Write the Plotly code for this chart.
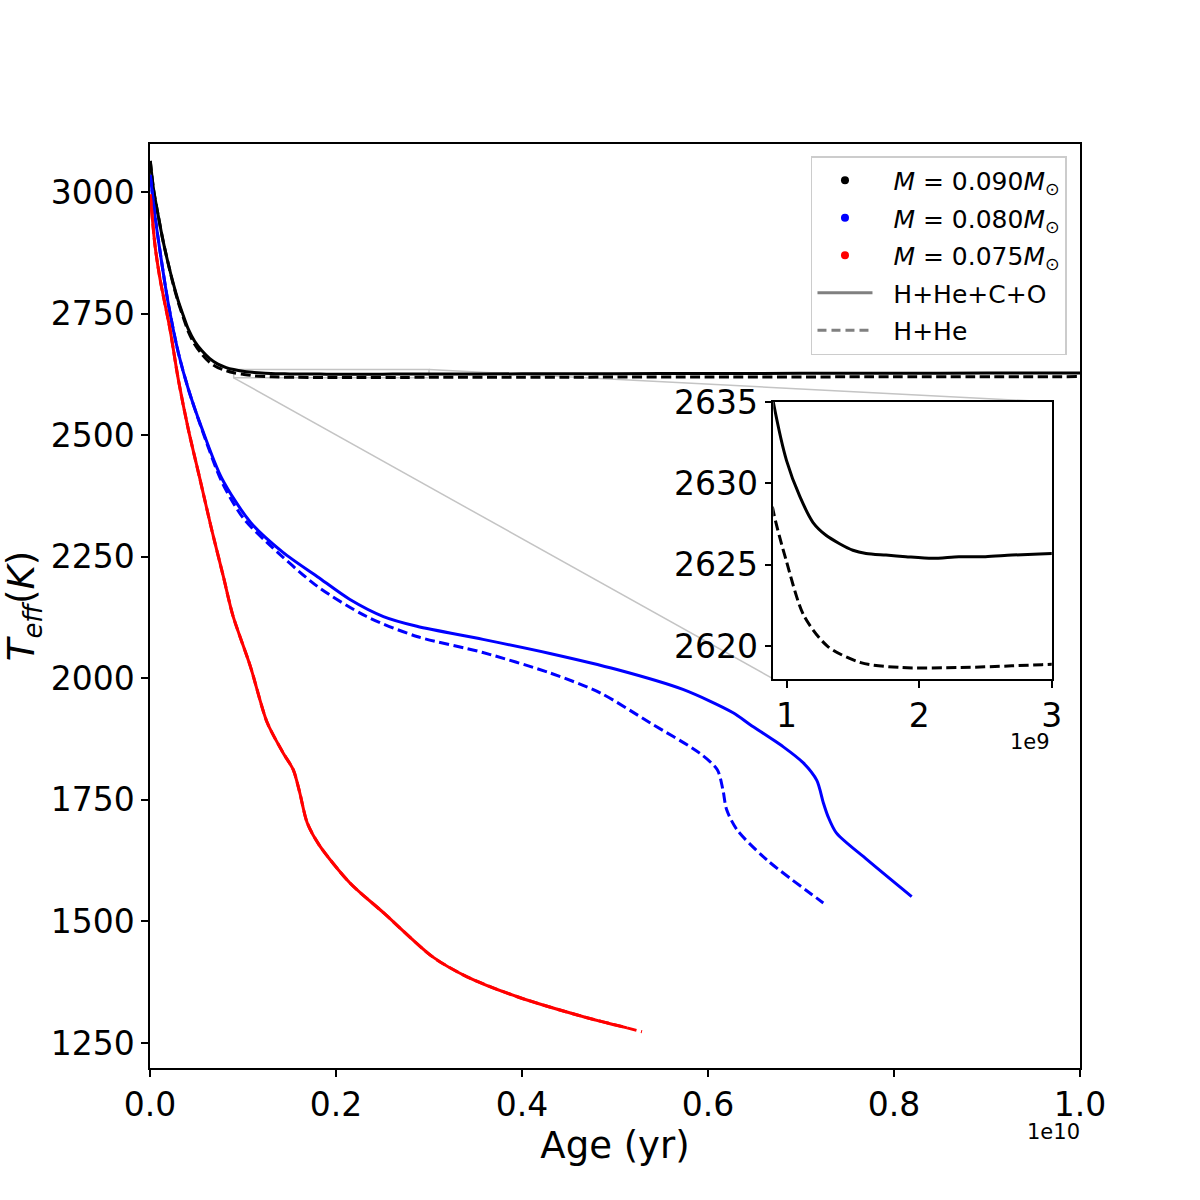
import plotly.graph_objects as go

# ---------------- data (ages in Gyr, Teff in K) ----------------
black_solid_age = [0.003, 0.04, 0.089, 0.14, 0.197, 0.25, 0.304, 0.36, 0.412, 0.48,
                   0.556, 0.64, 0.73, 0.82, 0.9, 1.0, 1.1, 1.2, 1.3, 1.4,
                   1.5, 1.6, 1.75, 1.9, 2.1, 2.3, 2.5, 2.7, 3.0, 4.0,
                   5.0, 6.0, 7.0, 8.0, 9.0, 10.0]
black_solid_teff = [3064, 3003, 2951, 2900, 2852, 2812, 2776, 2745, 2718, 2693,
                    2674, 2658, 2646, 2639, 2635, 2631.4, 2629.2, 2627.6, 2626.8, 2626.3,
                    2625.9, 2625.7, 2625.6, 2625.5, 2625.4, 2625.5, 2625.5, 2625.6, 2625.7, 2626.1,
                    2626.5, 2626.8, 2627.1, 2627.4, 2627.7, 2628.0]

black_dash_age = [0.003, 0.04, 0.089, 0.14, 0.197, 0.25, 0.304, 0.36, 0.412, 0.48,
                  0.556, 0.64, 0.73, 0.82, 0.9, 1.0, 1.13, 1.31, 1.56, 1.86,
                  2.31, 2.7, 3.0, 4.0, 6.0, 8.0, 10.0]
black_dash_teff = [3064, 3003, 2951, 2900, 2852, 2810, 2773, 2741, 2713, 2687,
                   2667, 2650, 2639, 2632.5, 2628.3, 2625.2, 2621.9, 2620.0, 2619.0, 2618.7,
                   2618.7, 2618.8, 2618.9, 2619.2, 2619.6, 2620.0, 2620.4]

blue_solid_age = [0.003, 0.054, 0.126, 0.197, 0.304, 0.412, 0.556, 0.77, 1.08, 1.43,
                  1.80, 2.15, 2.51, 2.87, 3.58, 4.30, 5.02, 5.73, 6.27, 6.45,
                  6.81, 7.025, 7.17, 7.24, 7.29, 7.38, 7.71, 8.19]
blue_solid_teff = [3035, 2951, 2855, 2770, 2670, 2595, 2515, 2412, 2321, 2259,
                   2209, 2162, 2127, 2107, 2080, 2051, 2018, 1977, 1929, 1905,
                   1859, 1826, 1790, 1744, 1716, 1682, 1627, 1551]

blue_dash_age = [0.003, 0.054, 0.126, 0.197, 0.304, 0.412, 0.556, 0.77, 1.0, 1.26,
                 1.80, 2.33, 2.87, 3.58, 4.30, 4.84, 5.38, 5.91, 6.10, 6.16,
                 6.20, 6.31, 6.63, 7.24]
blue_dash_teff = [3035, 2951, 2855, 2770, 2670, 2595, 2513, 2405, 2330, 2279,
                  2189, 2127, 2086, 2053, 2011, 1970, 1908, 1846, 1812, 1771,
                  1730, 1689, 1627, 1538]

red_solid_age = [0.003, 0.054, 0.108, 0.215, 0.304, 0.412, 0.538, 0.663, 0.788, 0.89,
                 1.08, 1.26, 1.43, 1.54, 1.61, 1.69, 1.82, 2.15, 2.51, 3.04,
                 3.41, 3.95, 4.66, 5.13]
red_solid_teff = [2995, 2890, 2821, 2718, 2615, 2512, 2409, 2306, 2210, 2130,
                  2024, 1909, 1847, 1812, 1765, 1703, 1657, 1579, 1518, 1427,
                  1386, 1345, 1304, 1281]

red_dash_age = red_solid_age + [5.29]
red_dash_teff = red_solid_teff + [1273]

legend_masses = ["0.090", "0.080", "0.075"]
legend_colors = ["black", "blue", "red"]
legend_comp = ["H+He+C+O", "H+He"]

main_xticks = [0.0, 0.2, 0.4, 0.6, 0.8, 1.0]          # in units of 1e10 yr
main_yticks = [1250, 1500, 1750, 2000, 2250, 2500, 2750, 3000]
inset_xticks = [1, 2, 3]                              # in units of 1e9 yr
inset_yticks = [2620, 2625, 2630, 2635]

# ---------------- axes geometry ----------------
X_RANGE = [0, 1e10]
Y_RANGE = [1198.5, 3098.8]
INSET_X = [0.9e9, 3.0e9]
INSET_Y = [2618.0, 2635.0]
INSET_XDOM = [0.6702, 0.9696]
INSET_YDOM = [0.4211, 0.7208]

FONT = "DejaVu Sans, Liberation Sans, sans-serif"
LW = 3
DASH = "10px,4.5px"
PAD = "&nbsp;&nbsp;"

def gyr(a):
    return [v * 1e9 for v in a]

def to_paper(x, y):
    px = (x - X_RANGE[0]) / (X_RANGE[1] - X_RANGE[0])
    py = (y - Y_RANGE[0]) / (Y_RANGE[1] - Y_RANGE[0])
    return px, py

fig = go.Figure()

series = [
    (black_solid_age, black_solid_teff, "black", "solid"),
    (black_dash_age, black_dash_teff, "black", DASH),
    (blue_solid_age, blue_solid_teff, "blue", "solid"),
    (blue_dash_age, blue_dash_teff, "blue", DASH),
    (red_solid_age, red_solid_teff, "red", "solid"),
    (red_dash_age, red_dash_teff, "red", DASH),
]
for a, t, c, d in series:
    fig.add_trace(go.Scatter(x=gyr(a), y=t, mode="lines",
                             line=dict(color=c, width=LW, dash=d, shape="spline", smoothing=0.8),
                             showlegend=False, hoverinfo="skip"))

# inset traces
for a, t, c, d in series[:2]:
    fig.add_trace(go.Scatter(x=gyr(a), y=t, mode="lines", xaxis="x2", yaxis="y2",
                             line=dict(color=c, width=LW, dash=d, shape="spline", smoothing=0.8),
                             showlegend=False, hoverinfo="skip"))

# legend entries
for i, (m, c) in enumerate(zip(legend_masses, legend_colors)):
    fig.add_trace(go.Scatter(x=[None], y=[None], mode="markers",
                             marker=dict(color=c, size=8),
                             name=f"{PAD}<i>M</i> = {m}<i>M</i><sub>⊙</sub>",
                             legendgroup=f"g{i}"))
fig.add_trace(go.Scatter(x=[None], y=[None], mode="lines",
                         line=dict(color="gray", width=2.8),
                         name=PAD + legend_comp[0], legendgroup="g3"))
fig.add_trace(go.Scatter(x=[None], y=[None], mode="lines",
                         line=dict(color="gray", width=2.8, dash="9px,5px"),
                         name=PAD + legend_comp[1], legendgroup="g4"))

# zoom indicator rectangle + connectors
gray = "#c4c4c4"
shapes = [dict(type="rect", xref="x", yref="y", x0=INSET_X[0], x1=INSET_X[1],
               y0=INSET_Y[0], y1=INSET_Y[1], line=dict(color=gray, width=1.5), layer="below")]
p1 = to_paper(INSET_X[0], INSET_Y[0])
p2 = to_paper(INSET_X[1], INSET_Y[1])
shapes.append(dict(type="line", xref="paper", yref="paper", x0=p1[0], y0=p1[1],
                   x1=INSET_XDOM[0], y1=INSET_YDOM[0], line=dict(color=gray, width=1.5), layer="below"))
shapes.append(dict(type="line", xref="paper", yref="paper", x0=p2[0], y0=p2[1],
                   x1=INSET_XDOM[1], y1=INSET_YDOM[1], line=dict(color=gray, width=1.5), layer="below"))

axis_common = dict(showline=True, linecolor="black", linewidth=1.5, mirror=True,
                   ticks="outside", ticklen=7, tickwidth=1.5, tickcolor="black",
                   showgrid=False, zeroline=False,
                   tickfont=dict(family=FONT, size=33, color="black"))

fig.update_layout(
    width=1200, height=1200,
    margin=dict(l=150, r=120, t=144, b=132),
    paper_bgcolor="white", plot_bgcolor="white",
    font=dict(family=FONT, color="black"),
    shapes=shapes,
    xaxis=dict(range=X_RANGE, domain=[0, 1],
               tickvals=[v * 1e10 for v in main_xticks],
               ticktext=[f"{v:.1f}" for v in main_xticks],
               title=dict(text="Age (yr)", font=dict(family=FONT, size=37), standoff=6),
               **axis_common),
    yaxis=dict(range=Y_RANGE, domain=[0, 1],
               tickvals=main_yticks, ticktext=[str(v) for v in main_yticks],
               title=dict(text="<i>T</i><sub><i>eff</i></sub>(<i>K</i>)",
                          font=dict(family=FONT, size=37), standoff=6),
               **axis_common),
    xaxis2=dict(range=INSET_X, domain=INSET_XDOM, anchor="y2",
                tickvals=[v * 1e9 for v in inset_xticks],
                ticktext=[str(v) for v in inset_xticks],
                **axis_common),
    yaxis2=dict(range=INSET_Y, domain=INSET_YDOM, anchor="x2",
                tickvals=inset_yticks, ticktext=[str(v) for v in inset_yticks],
                **axis_common),
    legend=dict(x=0.986, y=0.987, xanchor="right", yanchor="top",
                bgcolor="white", bordercolor="#cccccc", borderwidth=1.5,
                font=dict(family=FONT, size=25, color="black"),
                tracegroupgap=2, traceorder="grouped", itemwidth=55),
    annotations=[
        dict(text="1e10", xref="paper", yref="paper", x=1.002, y=-0.0693,
             xanchor="right", yanchor="middle", showarrow=False,
             font=dict(family=FONT, size=21, color="black")),
        dict(text="1e9", xref="paper", yref="paper", x=INSET_XDOM[1], y=0.3525,
             xanchor="right", yanchor="middle", showarrow=False,
             font=dict(family=FONT, size=21, color="black")),
    ],
)

fig.write_html("out.html")
